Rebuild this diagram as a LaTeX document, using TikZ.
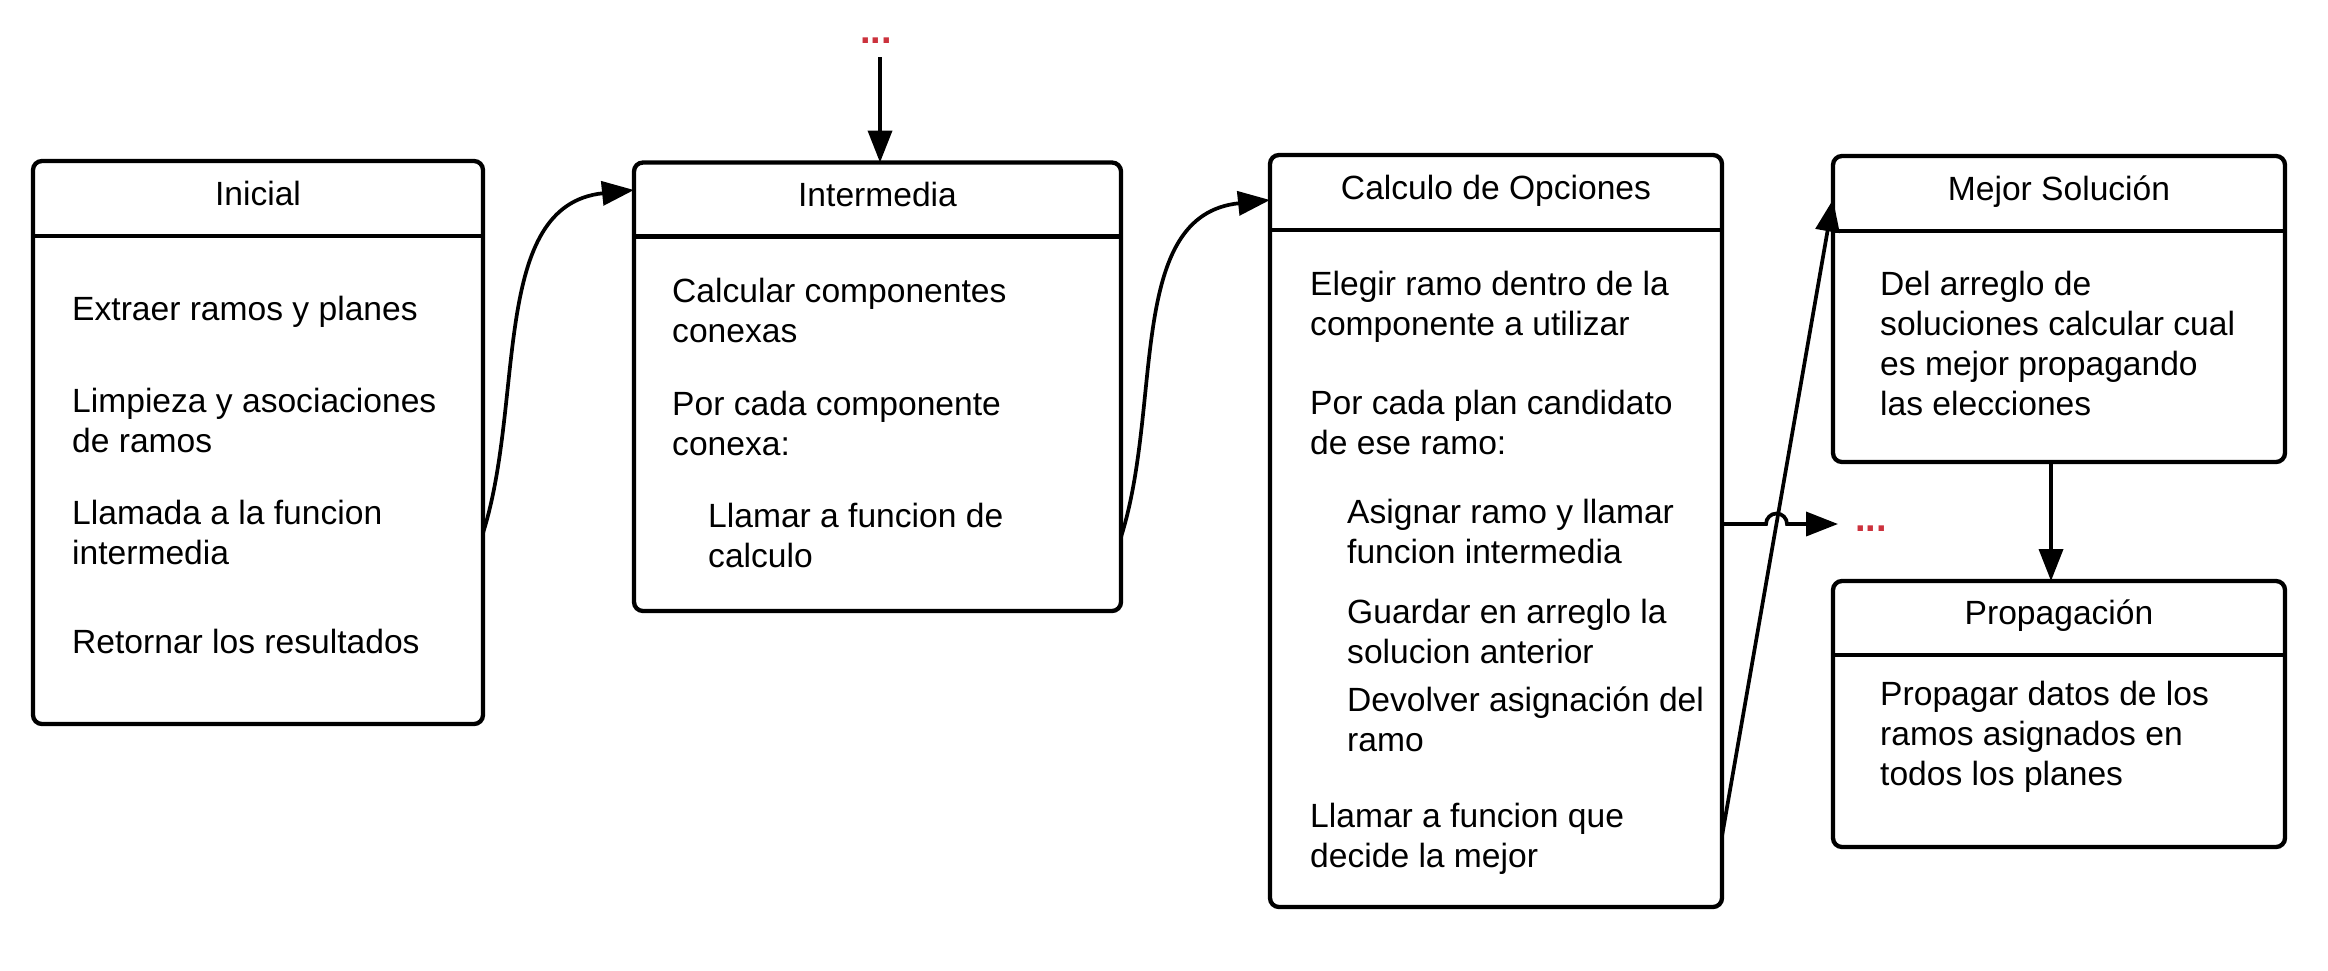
\documentclass[tikz,border=0pt]{standalone}
\usepackage{fontspec}
\setmainfont{Liberation Sans}
\usetikzlibrary{arrows.meta}
\definecolor{dotred}{HTML}{CC323D}
\begin{document}
\begin{tikzpicture}[x=1pt,y=-1pt,
  box/.style={draw=black, line width=4.3pt, rounded corners=9pt, rectangle, anchor=north west, inner sep=0pt, outer sep=0pt},
  sep/.style={draw=black, line width=4.3pt},
  txt/.style={anchor=base west, inner sep=0pt, font=\fontsize{33.6pt}{40pt}\selectfont},
  ttl/.style={anchor=base, inner sep=0pt, font=\fontsize{33.6pt}{40pt}\selectfont},
  conn/.style={draw=black, line width=3.7pt, -{Triangle[length=32pt,width=24pt]}},
  dots/.style={text=dotred, anchor=base west, inner sep=0pt, font=\bfseries\fontsize{38pt}{38pt}\selectfont}
]
\useasboundingbox (0,0) rectangle (2328,970);

% boxes
\node[box, minimum width=450pt, minimum height=563pt] (ini) at (33,161) {};
\node[box, minimum width=487pt, minimum height=448.5pt] (inter) at (634,162.5) {};
\node[box, minimum width=452pt, minimum height=752pt] (calc) at (1270,155) {};
\node[box, minimum width=452pt, minimum height=306pt] (mejor) at (1833,156) {};
\node[box, minimum width=452pt, minimum height=266pt] (prop) at (1833,581) {};

% header separators
\draw[sep] (33,236) -- (483,236);
\draw[sep] (634,236.5) -- (1121,236.5);
\draw[sep] (1270,230) -- (1722,230);
\draw[sep] (1833,231) -- (2285,231);
\draw[sep] (1833,655) -- (2285,655);

% titles
\node[ttl] (iniT) at ([yshift=-44pt]ini.north) {Inicial};
\node[ttl] (interT) at ([yshift=-44pt]inter.north) {Intermedia};
\node[ttl] (calcT) at ([yshift=-44pt]calc.north) {Calculo de Opciones};
\node[ttl] (mejorT) at ([yshift=-44pt]mejor.north) {Mejor Solución};
\node[ttl] (propT) at ([yshift=-43pt]prop.north) {Propagación};

% Inicial body
\node[txt] (i1) at (72,320) {Extraer ramos y planes};
\node[txt] (i2) at (72,412) {Limpieza y asociaciones};
\node[txt] (i3) at (72,452) {de ramos};
\node[txt] (i4) at (72,524) {Llamada a la funcion};
\node[txt] (i5) at (72,564) {intermedia};
\node[txt] (i6) at (72,653) {Retornar los resultados};

% Intermedia body
\node[txt] (m1) at (672,302) {Calcular componentes};
\node[txt] (m2) at (672,342) {conexas};
\node[txt] (m3) at (672,415) {Por cada componente};
\node[txt] (m4) at (672,455) {conexa:};
\node[txt] (m5) at (708,527) {Llamar a funcion de};
\node[txt] (m6) at (708,567) {calculo};

% Calculo body
\node[txt] (c1) at (1310,295) {Elegir ramo dentro de la};
\node[txt] (c2) at (1310,335) {componente a utilizar};
\node[txt] (c3) at (1310,414) {Por cada plan candidato};
\node[txt] (c4) at (1310,454) {de ese ramo:};
\node[txt] (c5) at (1347,523) {Asignar ramo y llamar};
\node[txt] (c6) at (1347,563) {funcion intermedia};
\node[txt] (c7) at (1347,623) {Guardar en arreglo la};
\node[txt] (c8) at (1347,663) {solucion anterior};
\node[txt] (c9) at (1347,711) {Devolver asignación del};
\node[txt] (c10) at (1347,751) {ramo};
\node[txt] (c11) at (1310,827) {Llamar a funcion que};
\node[txt] (c12) at (1310,867) {decide la mejor};

% Mejor body
\node[txt] (s1) at (1880,295) {Del arreglo de};
\node[txt] (s2) at (1880,335) {soluciones calcular cual};
\node[txt] (s3) at (1880,375) {es mejor propagando};
\node[txt] (s4) at (1880,415) {las elecciones};

% Propagacion body
\node[txt] (p1) at (1880,705) {Propagar datos de los};
\node[txt] (p2) at (1880,745) {ramos asignados en};
\node[txt] (p3) at (1880,785) {todos los planes};

% red dots
\node[dots] (dtop) at (860,43) {...};
\node[dots] (dright) at (1855,531) {...};
\coordinate (rend) at (1838,524);

% connectors
\draw[conn] ([xshift=4pt,yshift=-14pt]dtop.south) -- ([xshift=2.5pt]inter.north);
\draw[conn] ([yshift=191pt]ini.south east) .. controls +(42,-133) and +(-144,15) .. ([yshift=-27.5pt]inter.north west);
\draw[conn] ([yshift=74pt]inter.south east) .. controls +(42,-133) and +(-144,15) .. ([yshift=-45pt]calc.north west);
\draw[conn] ([yshift=71pt]calc.south east) -- ([yshift=-43.5pt]mejor.north west);
\draw[conn] ([yshift=383pt]calc.south east) -- ++(44,0) arc[start angle=180,end angle=0,radius=10.5pt] -- (rend);
\draw[conn] ([xshift=-8pt]mejor.south) -- ([xshift=-8pt]prop.north);
\end{tikzpicture}
\end{document}
